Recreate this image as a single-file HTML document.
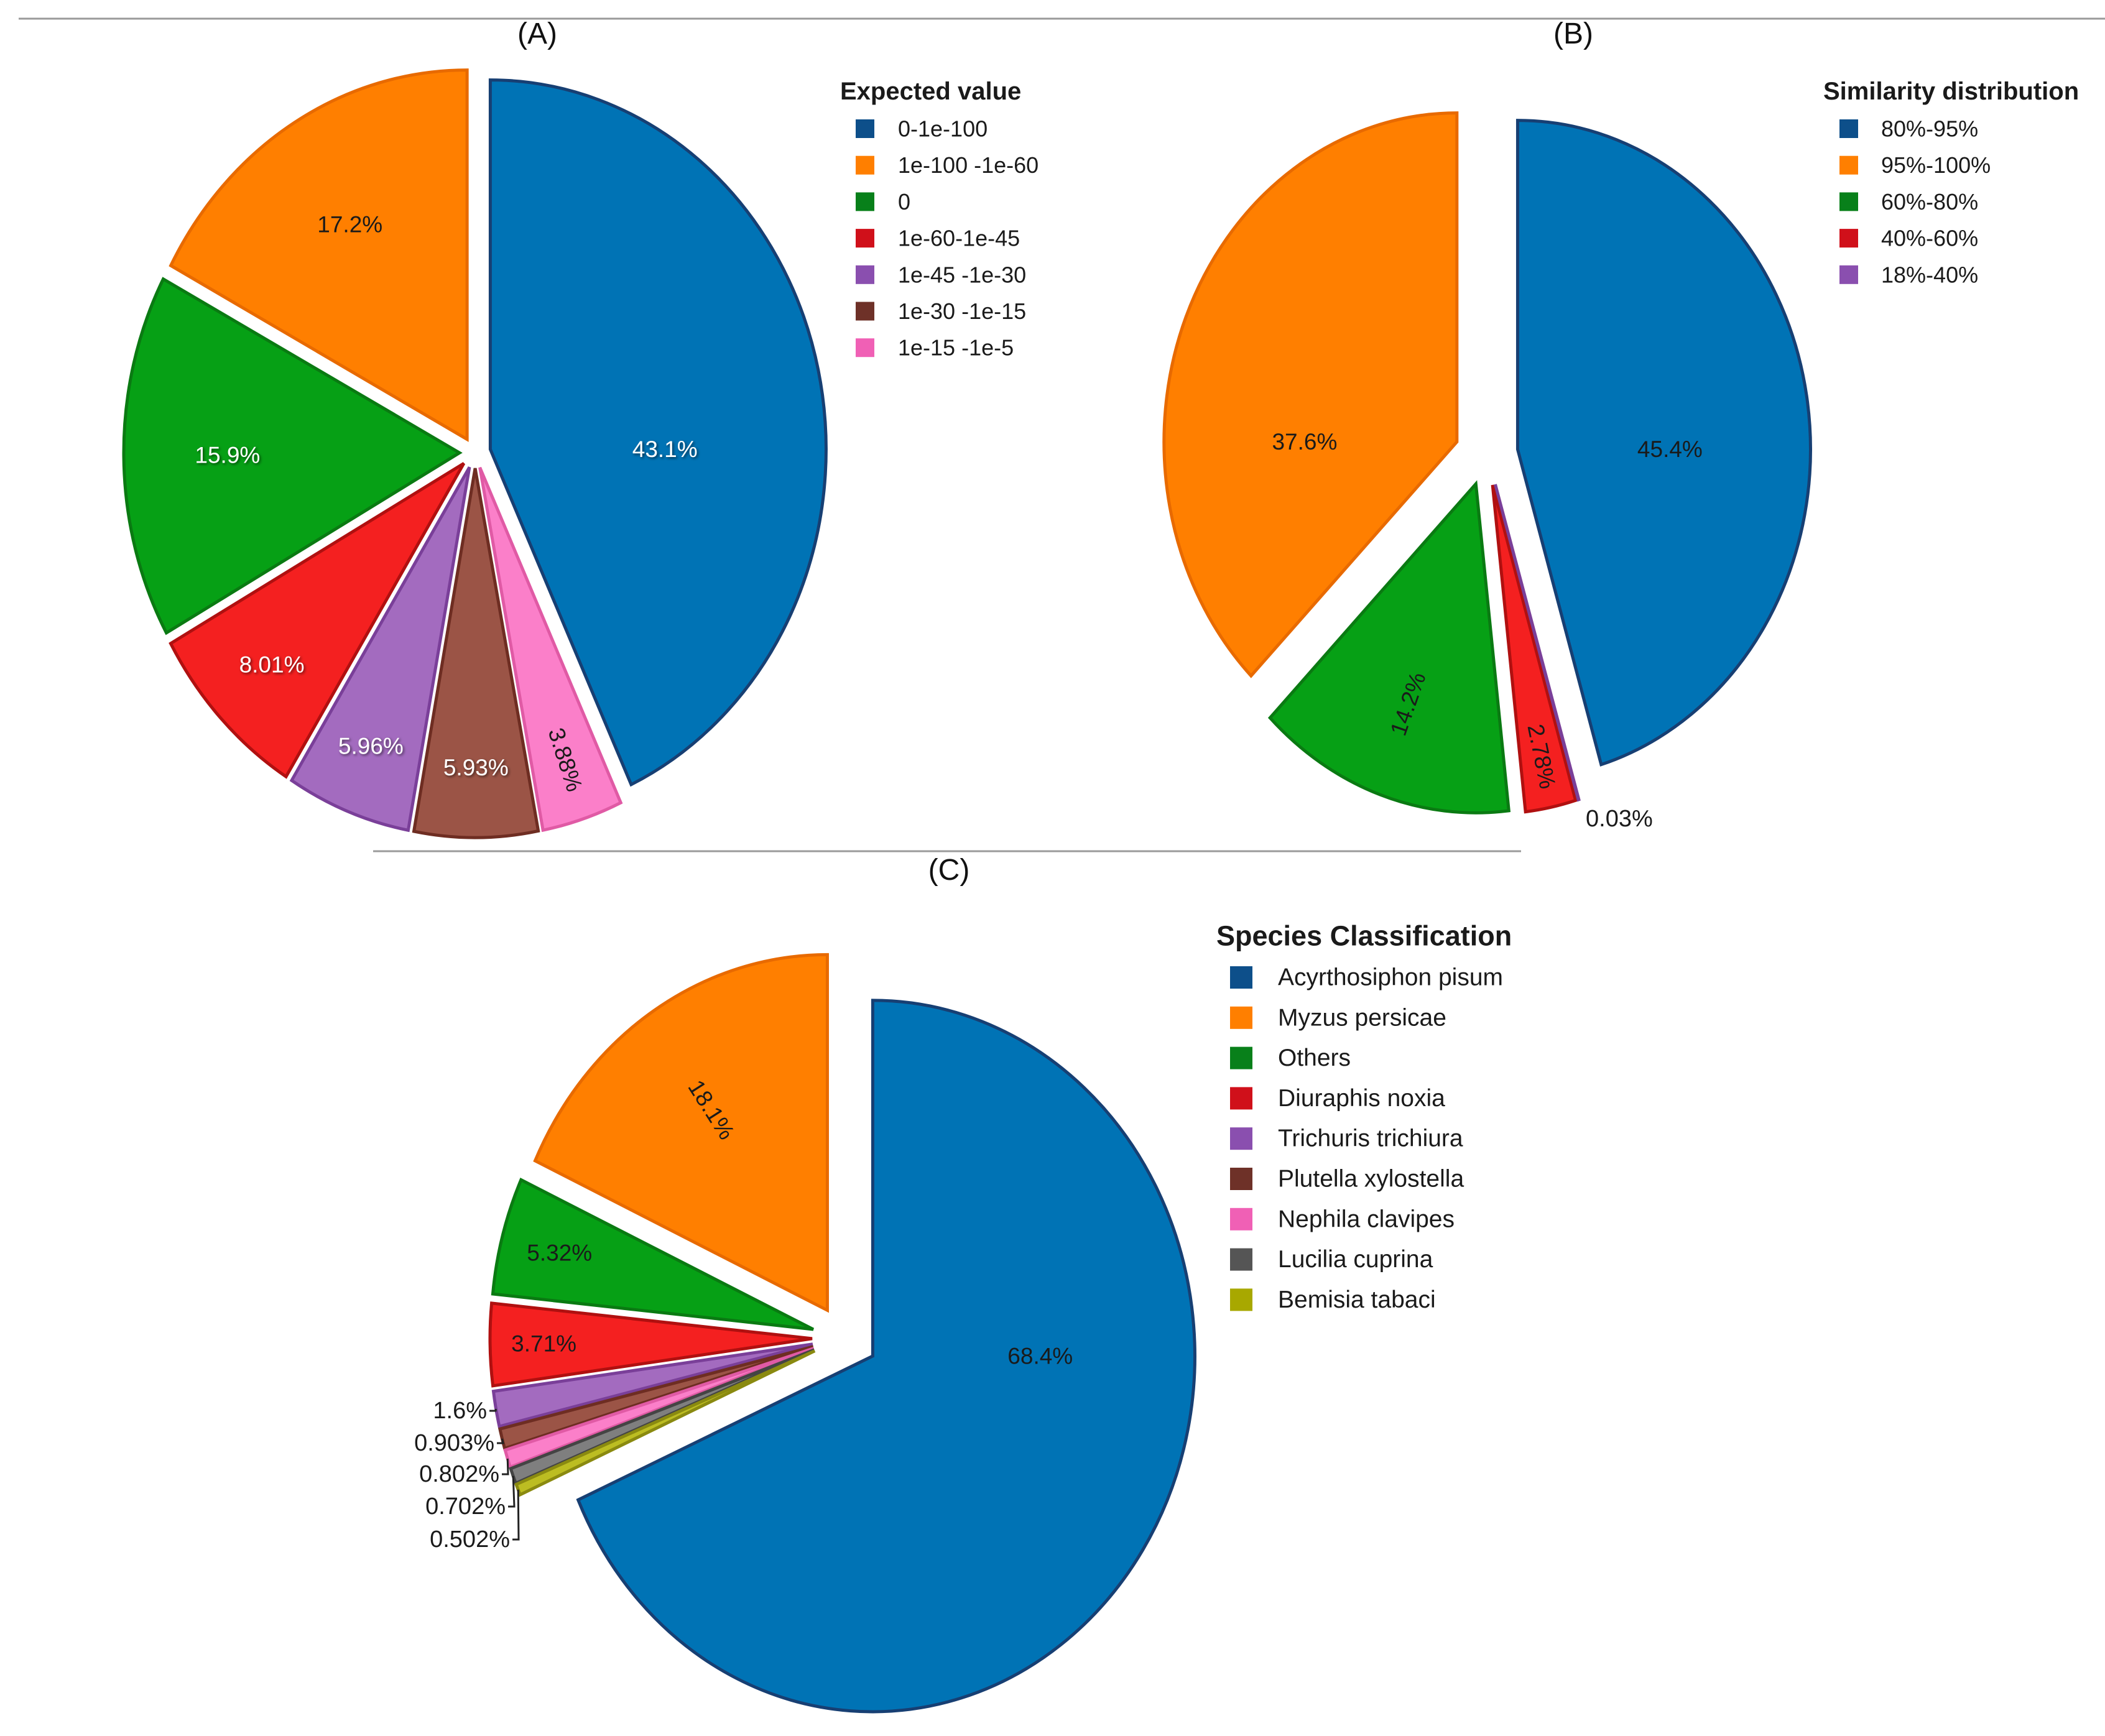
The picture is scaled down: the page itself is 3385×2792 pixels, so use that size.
<!DOCTYPE html>
<html><head><meta charset="utf-8"><style>
html,body{margin:0;padding:0;background:#fff;}
svg{display:block;font-family:"Liberation Sans",sans-serif;}
</style></head><body>
<svg id="chart" width="3385" height="2792" viewBox="0 0 3385 2792" xmlns="http://www.w3.org/2000/svg">
<defs>
<filter id="sh" x="-10%" y="-10%" width="120%" height="120%"><feDropShadow dx="2" dy="2" stdDeviation="2" flood-color="#000" flood-opacity="0.6"/></filter>
</defs>
<line x1="30" y1="30" x2="3385" y2="30" stroke="#9a9a9a" stroke-width="3"/>
<line x1="600" y1="1369" x2="2446" y2="1369" stroke="#9a9a9a" stroke-width="3"/>
<text x="864" y="70" font-size="48" text-anchor="middle" fill="#111">(A)</text>
<text x="2530" y="70" font-size="48" text-anchor="middle" fill="#111">(B)</text>
<text x="1526" y="1415" font-size="48" text-anchor="middle" fill="#111">(C)</text>
<g id="pies"></g>
<g id="legends"></g>
</svg>
<script>
// Chart A
const catsA = ["0-1e-100","1e-100 -1e-60","0","1e-60-1e-45","1e-45 -1e-30","1e-30 -1e-15","1e-15 -1e-5"];
const valsA = [43.1,17.2,15.9,8.01,5.96,5.93,3.88];
const rotA = [false,false,false,false,false,false,true];
// Chart B
const catsB = ["80%-95%","95%-100%","60%-80%","40%-60%","18%-40%"];
const valsB = [45.4,37.6,14.2,2.78,0.03];
const rotB = [false,false,true,true,false];
// Chart C
const catsC = ["Acyrthosiphon pisum","Myzus persicae","Others","Diuraphis noxia","Trichuris trichiura","Plutella xylostella","Nephila clavipes","Lucilia cuprina","Bemisia tabaci"];
const valsC = [68.4,18.1,5.32,3.71,1.6,0.903,0.802,0.702,0.502];
const rotC = [false,true,false,false,false,false,false,false,false];

const fills = ["#0073b5","#ff7f00","#06a015","#f42020","#a36bbf","#9b5446","#fb7fc9","#7f7f7f","#bcbd22"];
const strokes = ["#173f73","#e86a00","#0a7a12","#b01010","#7a3f99","#6e2d22","#e05aa5","#444","#8a8a10"];
const legendFills = ["#0d4f8a","#ff7f00","#08801a","#d0101a","#8a4faf","#6e3128","#f060b5","#555","#a8a800"];
const NS="http://www.w3.org/2000/svg";
const pies=document.getElementById('pies');
const legs=document.getElementById('legends');
function mk(tag,attrs,parent){const e=document.createElementNS(NS,tag);for(const k in attrs)e.setAttribute(k,attrs[k]);parent.appendChild(e);return e;}

function drawPie(key,vals,rots,cx,cy,rx,ry,ex,whiteIdx,outsidePos,leaders){
  const g=mk('g',{},pies);
  
  
  const total=vals.reduce((a,b)=>a+b,0);
  let cumBack=0;
  vals.forEach((v,i)=>{
    let a0,a1;
    const sweep=v/total*360;
    if(i===0){a0=0;a1=sweep;}else{a1=360-cumBack;a0=a1-sweep;cumBack+=sweep;}
    const midDeg=(a0+a1)/2;
    const mid=midDeg*Math.PI/180;
    const dx=ex*Math.sin(mid), dy=-ex*Math.cos(mid);
    const ox=cx+dx, oy=cy+dy;
    const r0=a0*Math.PI/180,r1=a1*Math.PI/180;
    const x0=ox+rx*Math.sin(r0),y0=oy-ry*Math.cos(r0);
    const x1=ox+rx*Math.sin(r1),y1=oy-ry*Math.cos(r1);
    const large=sweep>180?1:0;
    const p=mk('path',{d:`M${ox},${oy} L${x0},${y0} A${rx},${ry} 0 ${large} 1 ${x1},${y1} Z`,fill:fills[i],stroke:strokes[i],'stroke-width':5,'stroke-linejoin':'miter'},g);
    
    
    const txt=v+'%';
    if(v>=2){
      let f=v<10?0.87-0.01*v:Math.max(0.55,0.85-0.01*v);
      let la=mid;
      if(v>30){let s=(midDeg>180||midDeg<0)?-1:1;la=s*Math.PI/2;f=0.52;}
      const lx=ox+f*rx*Math.sin(la), ly=oy-f*ry*Math.cos(la);
      let rot=0;
      if(rots[i]){rot=midDeg-90;while(rot>90)rot-=180;while(rot<=-90)rot+=180;}
      const white=whiteIdx.includes(i);
      const t=mk('text',{x:lx,y:ly,'font-size':37,'text-anchor':'middle','dominant-baseline':'central',fill:white?'#fff':'#1a1a1a',transform:`rotate(${rot} ${lx} ${ly})`},g);
      if(white)t.setAttribute('filter','url(#sh)');
      
      
      t.textContent=txt;
    } else {
      const pos=outsidePos(i);
      const ex2=ox+rx*Math.sin(mid), ey2=oy-ry*Math.cos(mid);
      if(leaders){
        const ln=mk('polyline',{points:`${pos[0]+4},${pos[1]} ${pos[0]+14},${pos[1]} ${ex2},${ey2}`,fill:'none',stroke:'#222','stroke-width':3},g);
        
        
      }
      const t=mk('text',{x:pos[0],y:pos[1],'font-size':38,'text-anchor':pos[2],'dominant-baseline':'central',fill:'#1a1a1a'},g);
      
      
      t.textContent=txt;
    }
  });
}

function drawLegend(key,title,cats,tx,ty,sx,lx,y0,step,sw,fs,tfs){
  const g=mk('g',{},legs);
  
  
  const t=mk('text',{x:tx,y:ty,'font-size':tfs,'font-weight':'bold',fill:'#1a1a1a','dominant-baseline':'central'},g);
  
  
  t.textContent=title;
  cats.forEach((c,i)=>{
    const y=y0+i*step;
    const r=mk('rect',{x:sx,y:y-sw/2,width:sw,height:sw,fill:legendFills[i]},g);
    
    
    const tt=mk('text',{x:lx,y:y,'font-size':fs,fill:'#1a1a1a','dominant-baseline':'central'},g);
    
    
    tt.textContent=c;
  });
}

drawPie('a',valsA,rotA,764,728,540,594,25,[0,2,3,4,5],()=>[0,0,'end'],true);
drawPie('b',valsB,rotB,2390,730,471,529,51,[],()=>[2550,1317,'start'],false);
const outC={4:[783,2269],5:[795,2321],6:[803,2371],7:[813,2423],8:[820,2476]};
drawPie('c',valsC,rotC,1359,2152,518,572,53,[],i=>[outC[i][0],outC[i][1],'end'],true);

drawLegend('a','Expected value',catsA,1351,147,1376,1444,207,58.7,30,36,40);
drawLegend('b','Similarity distribution',catsB,2932,147,2958,3025,207,58.7,30,36,40);
drawLegend('c','Species Classification',catsC,1956,1505,1978,2055,1572,64.8,36,39,45);
</script>
</body></html>
